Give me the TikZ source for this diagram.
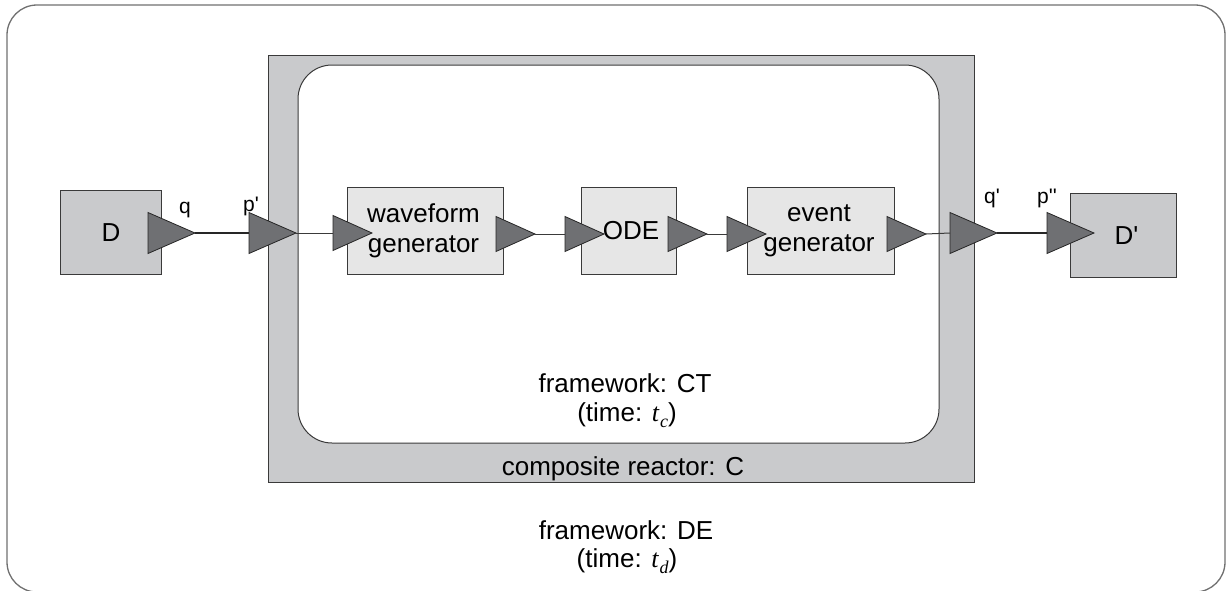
\documentclass[tikz,border=0pt]{standalone}
\usepackage{fontspec}
\setmainfont{Liberation Sans}
\newfontfamily\tmfont{Liberation Serif}
\definecolor{framegray}{HTML}{C9CACC}
\definecolor{boxgray}{HTML}{E6E6E6}
\definecolor{portgray}{HTML}{6F7073}
\definecolor{edgegray}{HTML}{3A3A3A}
\definecolor{outergray}{HTML}{707070}
\newcommand{\tvar}[1]{{\tmfont\itshape t\kern1pt\raisebox{-6pt}{\fontsize{18}{18}\selectfont #1}}}
\newcommand{\prm}{\textquotesingle}
\tikzset{
  x=1pt, y=-1pt,
  every node/.style={font=\fontsize{26}{30}\selectfont, inner sep=0pt},
  actor/.style={draw=edgegray, line width=1pt, fill=framegray, anchor=north west},
  inner actor/.style={draw=edgegray, line width=1pt, fill=boxgray, anchor=north west},
  portlabel/.style={font=\fontsize{21}{24}\selectfont, anchor=base},
  caption/.style={align=center, anchor=base},
  thin link/.style={draw=edgegray, line width=1pt},
  thick link/.style={draw=black!85, line width=2.6pt},
  port/.pic={
    \coordinate (-in) at (0,0);
    \coordinate (-tip) at (\pw,0);
    \filldraw[fill=portgray, draw=black!85, line width=0.8pt, line join=miter]
      (0,-\ph/2) -- (\pw,0) -- (0,\ph/2) -- cycle;
  }
}
\newcommand{\pw}{47}
\newcommand{\ph}{41}
\begin{document}
\begin{tikzpicture}
\useasboundingbox (0,0) rectangle (1232,590);

% outer DE container
\draw[outergray, line width=1.3pt, rounded corners=30pt] (7,5) rectangle (1225,592);

% composite reactor C with its CT interior
\draw[draw=edgegray, line width=1pt, fill=framegray] (268,55) rectangle (974,482);
\draw[draw=edgegray, line width=1pt, fill=white, rounded corners=34pt] (298,65) rectangle (939,443);

% actors
\node[actor, minimum width=101, minimum height=84] (D) at (60,190) {};
\node[actor, minimum width=106, minimum height=84] (Dp) at (1070,193) {};
\node[inner actor, minimum width=156, minimum height=87] (wg) at (347,187) {};
\node[inner actor, minimum width=95, minimum height=87] (ode) at (581,187) {};
\node[inner actor, minimum width=147, minimum height=87] (eg) at (747,187) {};

% large ports
\pic (q) at (148,233) {port};
\pic (pp) at (249,233) {port};
\pic (qp) at (950,233) {port};
\pic (ppp) at (1047,233) {port};

% small ports
\renewcommand{\pw}{39}
\renewcommand{\ph}{35}
\pic (wgin) at (333,233) {port};
\pic (wgout) at (496,234) {port};
\pic (odein) at (565,234) {port};
\pic (odeout) at (668,234) {port};
\pic (egin) at (727,234) {port};
\pic (egout) at (887,234) {port};

% connections
\draw[thick link] (q-tip) -- (pp-in);
\draw[thick link] (qp-tip) -- (ppp-in);
\draw[thin link] (pp-tip) -- (wgin-in);
\draw[thin link] (wgout-tip) -- (odein-in);
\draw[thin link] (odeout-tip) -- (egin-in);
\draw[thin link] (egout-tip) -- (qp-in);

% actor names
\node at (D.center) {D};
\node at ([xshift=3pt]Dp.center) {D\prm};
\node[align=center, font=\fontsize{26}{30}\selectfont] at ([xshift=-2pt]wg.center) {waveform\\generator};
\node at ([xshift=2pt]ode.center) {ODE};
\node[align=center, font=\fontsize{26}{30}\selectfont] at ([xshift=-2pt]eg.center) {event\\generator};

% port names
\node[portlabel] (ql) at (185,213) {q};
\node[portlabel] (ppl) at (251,211) {p\prm};
\node[portlabel] (qpl) at (992,203) {q\prm};
\node[portlabel] (pppl) at (1047,203) {p\prm\prm};

% framework captions
\node[caption] (ct) at (625,392) {framework: CT};
\node[caption] (tc) at (627,421) {(time: \tvar{c})};
\node[caption] (cname) at (623,475) {composite reactor: C};
\node[caption] (de) at (626,539) {framework: DE};
\node[caption] (td) at (627,567) {(time: \tvar{d})};
\end{tikzpicture}
\end{document}
